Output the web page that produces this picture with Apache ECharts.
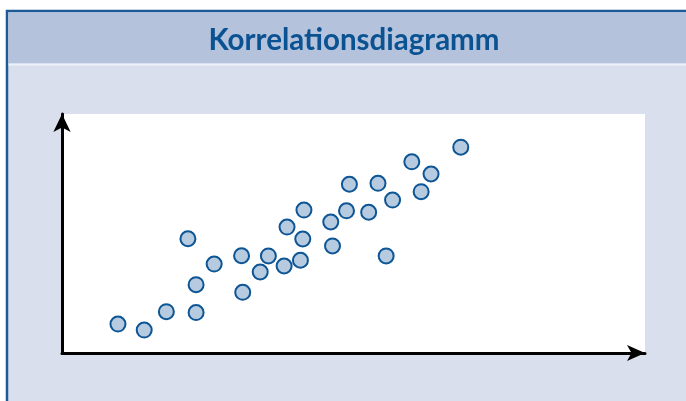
<!DOCTYPE html>
<html>
<head>
<meta charset="utf-8">
<script src="https://cdn.jsdelivr.net/npm/echarts@6/dist/echarts.min.js"></script>
<style>
html, body { margin: 0; padding: 0; background: #fff; }
#main { width: 686px; height: 401px; }
</style>
</head>
<body>
<div id="main"></div>
<script>
// Werte (Skala 0..100 auf beiden Achsen)
var xWerte = [9.6, 14.1, 17.9, 23.0, 23.0, 21.6, 26.1, 31.0, 30.8, 34.0,
              35.4, 38.1, 40.9, 41.3, 38.6, 41.5, 46.1, 46.4, 48.8, 49.3,
              52.6, 54.2, 55.6, 56.7, 60.0, 61.6, 63.3, 68.4];
var yWerte = [12.1, 9.6, 17.3, 16.9, 28.6, 47.8, 37.2, 25.4, 40.7, 33.9,
              40.6, 36.4, 38.8, 47.7, 52.7, 59.8, 54.8, 44.8, 59.5, 70.6,
              58.9, 71.0, 40.6, 64.0, 80.0, 67.5, 74.9, 86.1];
var titel = 'Korrelationsdiagramm';

var punkte = xWerte.map(function (x, i) { return [x, yWerte[i]]; });

var myChart = echarts.init(document.getElementById('main'));
myChart.setOption({
    animation: false,
    backgroundColor: '#fff',
    title: {
        text: titel,
        left: 349,
        top: 20,
        textAlign: 'center',
        textStyle: {
            fontFamily: 'Lato',
            fontWeight: 'bold',
            fontSize: 29.5,
            color: '#0a5291'
        }
    },
    graphic: [
        // Rahmen + Hintergrund
        { type: 'rect', z: -10, shape: { x: 7, y: 11, width: 690, height: 400 },
          style: { fill: '#d9dfec', stroke: '#1d5a97', lineWidth: 2.5 } },
        { type: 'rect', z: -9, shape: { x: 8.5, y: 12.5, width: 680, height: 51 },
          style: { fill: '#b4c2dc' } },
        { type: 'rect', z: -9, shape: { x: 8.5, y: 63.5, width: 680, height: 2 },
          style: { fill: '#eef1f7' } }
    ],
    grid: {
        left: 62,
        top: 114,
        right: 41,
        bottom: 48,
        show: true,
        backgroundColor: '#fff',
        borderWidth: 0
    },
    xAxis: {
        type: 'value',
        min: 0,
        max: 100,
        axisLine: { show: true, symbol: ['none', 'arrow'], symbolSize: [12, 18],
                    lineStyle: { color: '#000', width: 3 } },
        axisTick: { show: false },
        axisLabel: { show: false },
        splitLine: { show: false }
    },
    yAxis: {
        type: 'value',
        min: 0,
        max: 100,
        axisLine: { show: true, symbol: ['none', 'arrow'], symbolSize: [13, 18],
                    lineStyle: { color: '#000', width: 3 } },
        axisTick: { show: false },
        axisLabel: { show: false },
        splitLine: { show: false }
    },
    series: [{
        type: 'scatter',
        data: punkte,
        symbol: 'circle',
        symbolSize: 15,
        itemStyle: {
            color: '#b6cbe0',
            borderColor: '#0d5595',
            borderWidth: 2,
            opacity: 1
        }
    }]
});
</script>
</body>
</html>
